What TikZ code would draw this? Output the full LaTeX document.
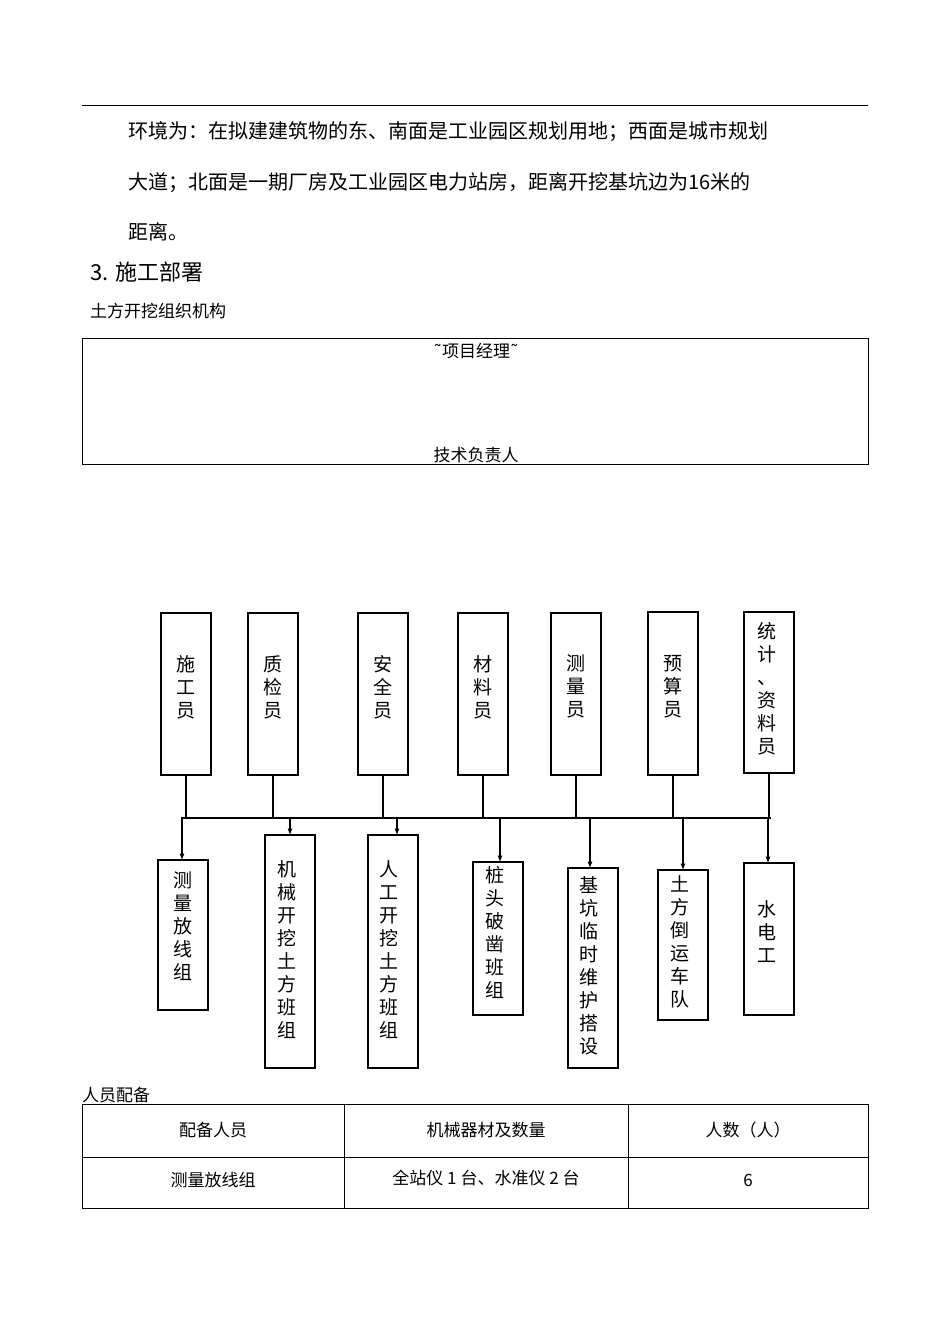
\documentclass[tikz,border=0pt]{standalone}
\usepackage{fontspec}
\setmainfont{Noto Sans CJK SC}
\newfontfamily\djv{DejaVu Sans}
\begin{document}
\begin{tikzpicture}[x=1pt,y=-1pt,
  txt/.style={anchor=west,inner sep=0,font=\fontsize{17}{20}\selectfont},
  ptxt/.style={anchor=west,inner sep=0,font=\fontsize{20}{24}\selectfont},
  vbox/.style={draw,line width=1.4pt},
  vt/.style={anchor=north,inner sep=0,align=center,font=\fontsize{19}{23}\selectfont},
  arr/.style={-latex,line width=1.2pt},
  ln/.style={line width=1.2pt}]
\useasboundingbox (0,0) rectangle (950,1344);
\draw[line width=0.6pt] (82,105) -- (868,105);
\node[ptxt] (l1) at (128,132) {环境为：在拟建建筑物的东、南面是工业园区规划用地；西面是城市规划};
\node[ptxt] (l2) at (128,183) {大道；北面是一期厂房及工业园区电力站房，距离开挖基坑边为16米的};
\node[ptxt] (l3) at (128,232) {距离。};
\node[txt,font=\fontsize{22}{26}\selectfont] (h) at (90,272) {3. 施工部署};
\node[txt] (h2) at (90,311) {土方开挖组织机构};
\draw[line width=0.6pt] (82,338) rectangle (868,464);
\node[txt,anchor=center] (pm) at (476,351) {{\djv ˜}项目经理{\djv ˜}};
\node[txt,anchor=center] (tl) at (476,455) {技术负责人};
% top boxes
\foreach \n/\a/\b/\t/\bb in {t1/161/211/613/775, t2/248/298/613/775, t3/358/408/613/775, t4/458/508/613/775, t5/551/601/613/775, t6/648/698/612/775, t7/744/794/612/773}{
  \draw[vbox] (\a,\t) rectangle (\b,\bb);
  \coordinate (\n) at ({(\a+\b)/2},\bb);
}
\node[vt] at (186,655) {施\\工\\员};
\node[vt] at (273,655) {质\\检\\员};
\node[vt] at (383,655) {安\\全\\员};
\node[vt] at (483,655) {材\\料\\员};
\node[vt] at (576,655) {测\\量\\员};
\node[vt] at (673,655) {预\\算\\员};
\node[vt] at (767,622) {统\\计\\、\\资\\料\\员};
\coordinate (bl) at (181,818); \coordinate (br) at (771,818);
\draw[ln] (bl) -- (br);
\foreach \n in {t1,t2,t3,t4,t5,t6,t7}{\draw[ln] (\n) -- (\n |- bl);}
% bottom boxes
\foreach \a/\b/\t/\bb/\x in {158/208/860/1010/182, 265/315/835/1068/290, 368/418/835/1068/397, 473/523/862/1015/500, 568/618/868/1068/590, 658/708/870/1020/683, 744/794/863/1015/768}{
  \draw[vbox] (\a,\t) rectangle (\b,\bb);
  \draw[arr] (\x,818) -- (\x,\t);
}
\node[vt] at (183,872) {测\\量\\放\\线\\组};
\node[vt] at (287,860) {机\\械\\开\\挖\\土\\方\\班\\组};
\node[vt] at (389,860) {人\\工\\开\\挖\\土\\方\\班\\组};
\node[vt] at (495,866) {桩\\头\\破\\凿\\班\\组};
\node[vt] at (589,876) {基\\坑\\临\\时\\维\\护\\搭\\设};
\node[vt] at (680,875) {土\\方\\倒\\运\\车\\队};
\node[vt] at (767,900) {水\\电\\工};
% table
\node[txt] (ry) at (82,1095) {人员配备};
\draw[line width=0.6pt] (82,1104) rectangle (868,1208);
\draw[line width=0.6pt] (82,1157) -- (868,1157) (344,1104) -- (344,1208) (628,1104) -- (628,1208);
\node[txt,anchor=center] at (213,1130) {配备人员};
\node[txt,anchor=center] at (486,1130) {机械器材及数量};
\node[txt,anchor=center] at (748,1130) {人数（人）};
\node[txt,anchor=center] at (213,1180) {测量放线组};
\node[txt,anchor=center] at (486,1178) {全站仪 1 台、水准仪 2 台};
\node[txt,anchor=center] at (748,1180) {6};
\end{tikzpicture}
\end{document}
